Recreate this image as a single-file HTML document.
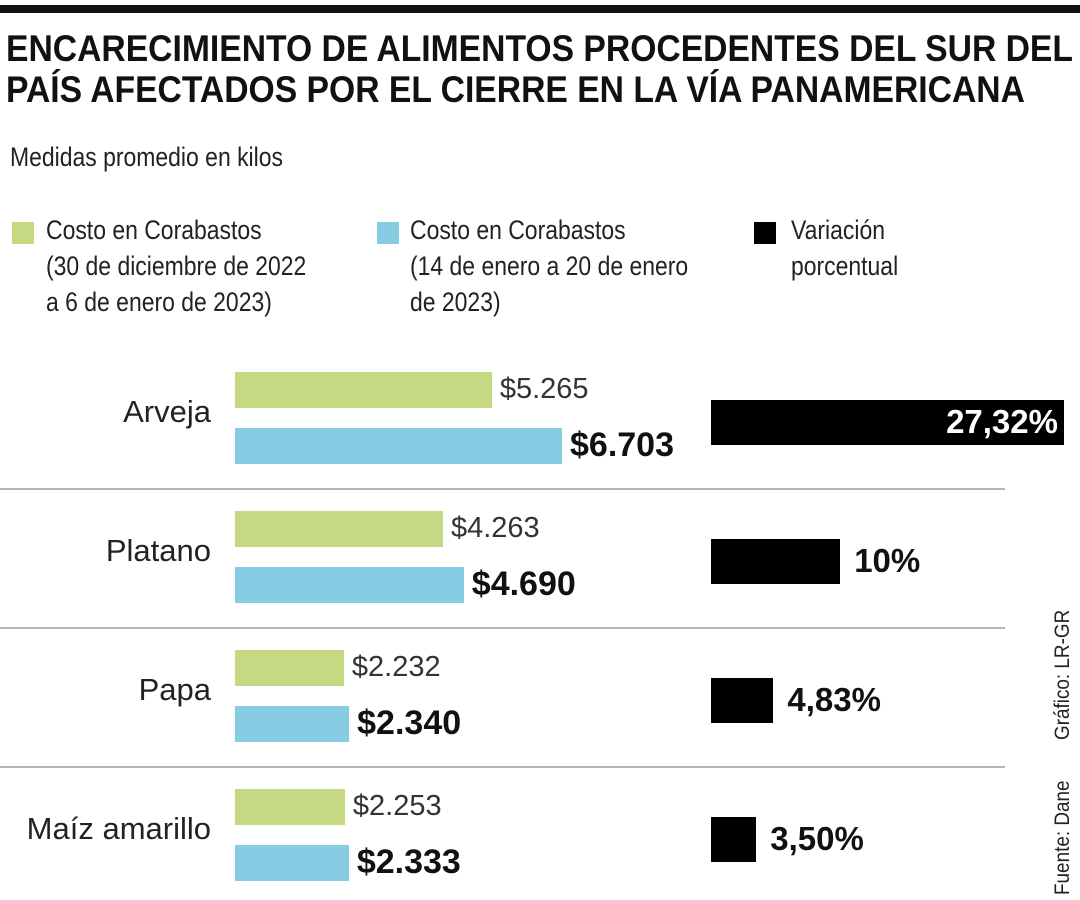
<!DOCTYPE html>
<html><head><meta charset="utf-8"><style>
body{margin:0;width:1080px;height:900px;background:#fff;overflow:hidden;font-family:"Liberation Sans",sans-serif;color:#111}
.t{position:absolute;white-space:nowrap}
.c{transform:scaleX(0.85);transform-origin:0 0}
</style></head><body>
<div style="position:absolute;left:0;top:5px;width:1080px;height:8px;background:#111"></div>
<div class="t" style="left:6px;top:28px;font-size:37px;font-weight:bold;line-height:41px;transform:scaleX(0.91);transform-origin:0 0">ENCARECIMIENTO DE ALIMENTOS PROCEDENTES DEL SUR DEL<br>PAÍS AFECTADOS POR EL CIERRE EN LA VÍA PANAMERICANA</div>
<div class="t c" style="left:10px;top:142px;font-size:27px;color:#222">Medidas promedio en kilos</div>
<div>
<div style="position:absolute;left:12px;top:222px;width:22px;height:22px;background:#c5d982"></div>
<div class="t c" style="left:46px;top:212px;font-size:27px;line-height:36px;color:#222">Costo en Corabastos<br>(30 de diciembre de 2022<br>a 6 de enero de 2023)</div></div>
<div>
<div style="position:absolute;left:377px;top:222px;width:22px;height:22px;background:#86cde3"></div>
<div class="t c" style="left:410px;top:212px;font-size:27px;line-height:36px;color:#222">Costo en Corabastos<br>(14 de enero a 20 de enero<br>de 2023)</div></div>
<div>
<div style="position:absolute;left:754px;top:222px;width:22px;height:22px;background:#000"></div>
<div class="t c" style="left:791px;top:212px;font-size:27px;line-height:36px;color:#222">Variación<br>porcentual</div></div>
<div class="t" style="left:1050px;top:740px;font-size:21px;line-height:25px;transform:rotate(-90deg) scaleX(0.9);transform-origin:0 0;color:#222">Gráfico: LR-GR</div>
<div class="t" style="left:1050px;top:895px;font-size:21px;line-height:25px;transform:rotate(-90deg) scaleX(0.9);transform-origin:0 0;color:#222">Fuente: Dane</div>
<div id="chart"></div>
<script>
const categories=["Arveja","Platano","Papa","Maíz amarillo"];
const before=[5265,4263,2232,2253];
const after=[6703,4690,2340,2333];
const pct=[27.32,10,4.83,3.50];
const pctLabels=["27,32%","10%","4,83%","3,50%"];
const x0=235,sx=327/6703,px0=711,spx=353/27.32,rowH=139,top0=372;
const fmt=v=>"$"+String(v).replace(/\B(?=(\d{3})+(?!\d))/g,".");
const c=document.getElementById('chart');
function mk(tag,css,txt){const e=document.createElement(tag);e.style.cssText="position:absolute;"+css;if(txt!==undefined)e.textContent=txt;c.appendChild(e);return e;}
categories.forEach((cat,i)=>{
 const y=top0+i*rowH;
 let e=mk('div',`right:${1080-211}px;top:${y+22}px;font-size:31px;white-space:nowrap;color:#222`,cat);
 
 
 const wg=before[i]*sx,wb=after[i]*sx;
 e=mk('div',`left:${x0}px;top:${y}px;width:${wg}px;height:36px;background:#c5d982`);
 
 
 e=mk('div',`left:${x0+wg+8}px;top:${y+1}px;font-size:29px;white-space:nowrap;color:#333`,fmt(before[i]));
 
 
 e=mk('div',`left:${x0}px;top:${y+56}px;width:${wb}px;height:36px;background:#86cde3`);
 
 
 e=mk('div',`left:${x0+wb+8}px;top:${y+54}px;font-size:34px;font-weight:bold;white-space:nowrap;color:#111`,fmt(after[i]));
 
 
 const wp=pct[i]*spx;
 e=mk('div',`left:${px0}px;top:${y+28}px;width:${wp}px;height:45px;background:#000`);
 
 
 if(i===0){e=mk('div',`right:${1080-(px0+wp)+6}px;top:${y+31}px;font-size:33px;font-weight:bold;color:#fff;white-space:nowrap`,pctLabels[i]);}
 else{e=mk('div',`left:${px0+wp+14}px;top:${y+31}px;font-size:33px;font-weight:bold;color:#111;white-space:nowrap`,pctLabels[i]);}
 
 
 if(i<categories.length-1){
  e=mk('div',`left:0;top:${y+116}px;width:1005px;height:2px;background:#b5b5b5`);
  
  
 }
});
</script>
</body></html>
